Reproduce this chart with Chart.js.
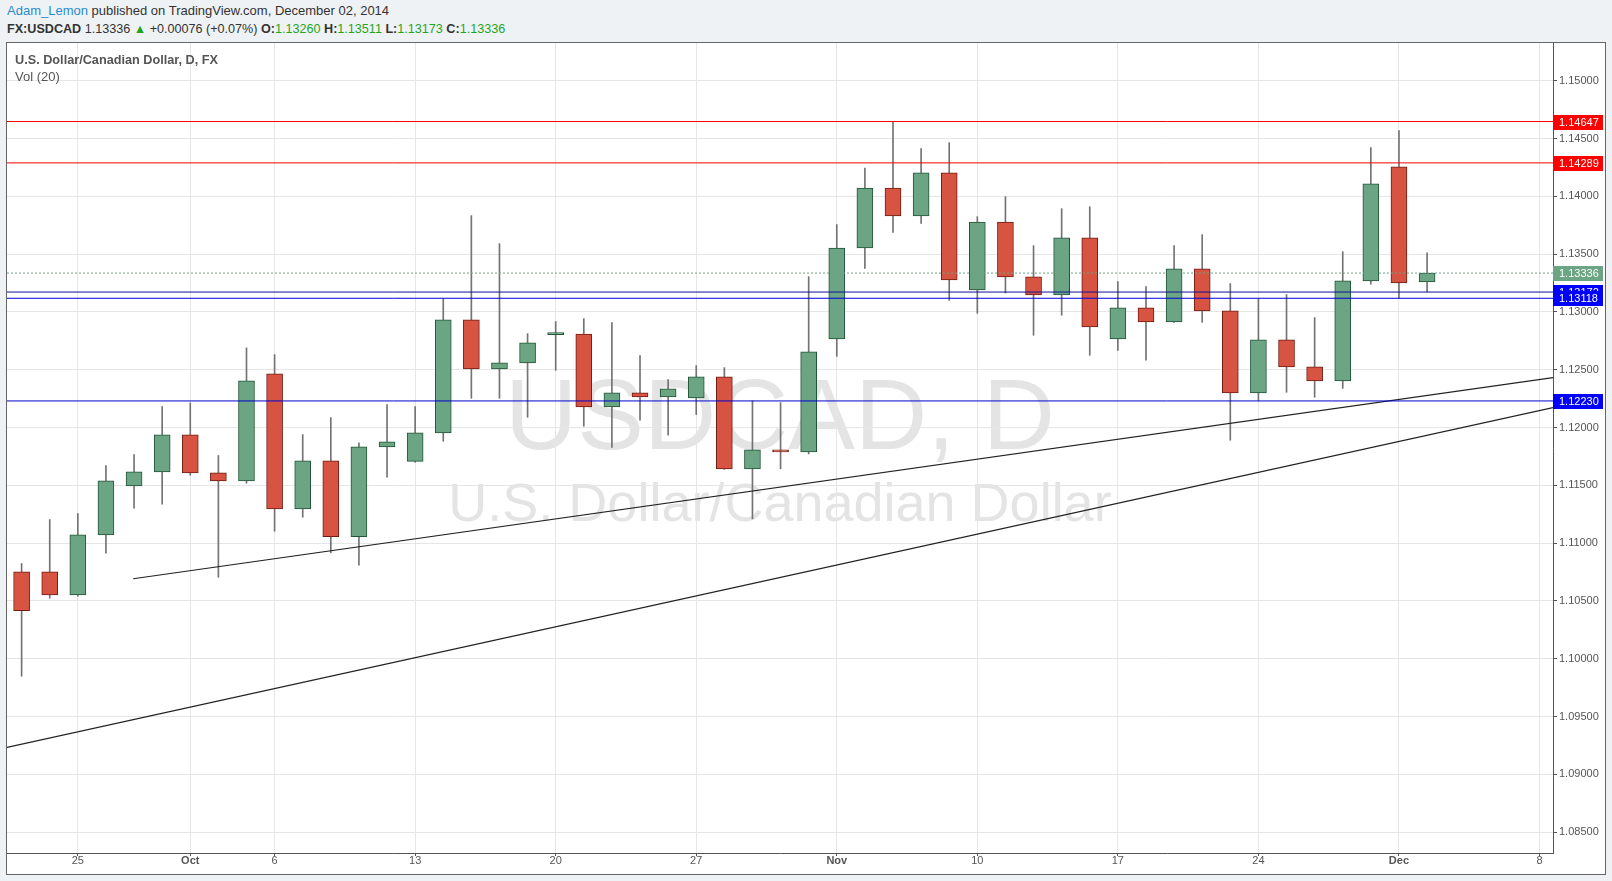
<!DOCTYPE html>
<html>
<head>
<meta charset="utf-8">
<script src="https://cdn.jsdelivr.net/npm/chart.js@4.4.1/dist/chart.umd.min.js"></script>
<style>
  html, body { margin: 0; padding: 0; }
  body { width: 1612px; height: 881px; background: #eff2f5; position: relative; overflow: hidden;
         font-family: "Liberation Sans", Arial, sans-serif; }
  .hdr { position: absolute; left: 7px; font-size: 13px; line-height: 16px; color: #333; white-space: nowrap; }
  #hdr1 { top: 3px; }
  #hdr2 { top: 21px; font-size: 12.6px; }
  .user { color: #2a8cce; }
  .g { color: #1fa51f; }
  #panel { position: absolute; left: 6px; top: 42px; width: 1600px; height: 833px; box-sizing: border-box;
           border: 1px solid #666; background: #fff; }
  .wm { position: absolute; left: 7px; width: 1546px; text-align: center; color: #e4e4e4; white-space: nowrap; }
  #wm1 { top: 364px; font-size: 100px; line-height: 100px; }
  #wm2 { top: 475px; font-size: 54px; line-height: 54px; }
  #c { position: absolute; left: 0; top: 0; }
  .lbl { position: absolute; left: 15px; line-height: 16px; color: #555; white-space: nowrap; }
  #title { top: 52px; font-size: 12.7px; font-weight: bold; }
  #vol { top: 69px; font-size: 13px; }
</style>
</head>
<body>
<div class="hdr" id="hdr1"><span class="user">Adam_Lemon</span> published on TradingView.com, December 02, 2014</div>
<div class="hdr" id="hdr2"><b>FX:USDCAD</b> 1.13336 <span class="g">&#9650;</span> +0.00076 (+0.07%) <b>O:</b><span class="g">1.13260</span> <b>H:</b><span class="g">1.13511</span> <b>L:</b><span class="g">1.13173</span> <b>C:</b><span class="g">1.13336</span></div>
<div id="panel"></div>
<div class="wm" id="wm1">USDCAD, D</div>
<div class="wm" id="wm2">U.S. Dollar/Canadian Dollar</div>
<canvas id="c" width="1612" height="881" style="width:1612px;height:881px"></canvas>
<div class="lbl" id="title">U.S. Dollar/Canadian Dollar, D, FX</div>
<div class="lbl" id="vol">Vol (20)</div>
<script>
// dagelijkse candles USDCAD, 23 sep - 2 dec 2014
const dates = ["09-23","09-24","09-25","09-26","09-29","09-30","10-01","10-02","10-03","10-06",
  "10-07","10-08","10-09","10-10","10-13","10-14","10-15","10-16","10-17","10-20",
  "10-21","10-22","10-23","10-24","10-27","10-28","10-29","10-30","10-31","11-03",
  "11-04","11-05","11-06","11-07","11-10","11-11","11-12","11-13","11-14","11-17",
  "11-18","11-19","11-20","11-21","11-24","11-25","11-26","11-27","11-28","12-01","12-02"];
const opens = [1.10752,1.10752,1.10553,1.11072,1.11496,1.11617,1.11937,1.11608,1.11539,1.12464,
  1.11297,1.11712,1.11055,1.11833,1.11708,1.11954,1.12931,1.12507,1.12559,1.12804,
  1.12808,1.12179,1.12300,1.12265,1.12256,1.12438,1.11643,1.11807,1.11790,1.12767,
  1.13553,1.14072,1.13830,1.14202,1.13190,1.13778,1.13303,1.13147,1.13640,1.12767,
  1.13035,1.12914,1.13372,1.13009,1.12300,1.12758,1.12524,1.12403,1.13268,1.14254,1.13260];
const highs = [1.10824,1.11204,1.11256,1.11671,1.11766,1.12181,1.12213,1.11758,1.12689,1.12631,
  1.11939,1.12086,1.11867,1.12199,1.12181,1.13115,1.13833,1.13591,1.12812,1.12916,
  1.12942,1.12907,1.12622,1.12415,1.12536,1.12518,1.12230,1.12216,1.13305,1.13755,
  1.14245,1.14647,1.14412,1.14464,1.13824,1.13997,1.13573,1.13893,1.13910,1.13262,
  1.13219,1.13573,1.13668,1.13245,1.13112,1.13150,1.12951,1.13521,1.14421,1.14568,1.13511];
const lows = [1.09849,1.10524,1.10541,1.10913,1.11302,1.11337,1.11587,1.10705,1.11518,1.11103,
  1.11224,1.10916,1.10809,1.11570,1.11700,1.11881,1.12253,1.12253,1.12089,1.12495,
  1.12011,1.11829,1.12063,1.11933,1.12112,1.11638,1.11210,1.11643,1.11772,1.12616,
  1.13377,1.13688,1.13766,1.13100,1.12988,1.13164,1.12798,1.12971,1.12625,1.12668,
  1.12582,1.12910,1.12910,1.11890,1.12233,1.12305,1.12262,1.12339,1.13239,1.13118,1.13173];
const closes = [1.10415,1.10553,1.11072,1.11539,1.11617,1.11937,1.11608,1.11539,1.12403,1.11297,
  1.11712,1.11055,1.11833,1.11876,1.11954,1.12931,1.12507,1.12559,1.12732,1.12808,
  1.12179,1.12300,1.12265,1.12334,1.12438,1.11643,1.11807,1.11790,1.12654,1.13553,
  1.14072,1.13830,1.14202,1.13277,1.13778,1.13303,1.13147,1.13640,1.12870,1.13035,
  1.12914,1.13372,1.13009,1.12300,1.12758,1.12524,1.12403,1.13268,1.14107,1.13251,1.13336];

// horizontale niveaus en trendlijnen
const levels = [1.14647, 1.14289, 1.13172, 1.13118, 1.12230];
const levelColors = ["#ff0000", "#ff0000", "#10109a", "#0000dd", "#0000cc"];
const tagColors = ["#ff0000", "#ff0000", "#0000ff", "#0000ff", "#0000ff"];
const lastPrice = 1.13336;
const trendA_x = [3.97, 54.48], trendA_y = [1.10692, 1.12431];
const trendB_x = [-0.52, 54.48], trendB_y = [1.09234, 1.12173];

// as-labels
const xTickIdx = [2, 6, 9, 14, 19, 24, 29, 34, 39, 44, 49, 54];
const xTickLabels = ["25", "Oct", "6", "13", "20", "27", "Nov", "10", "17", "24", "Dec", "8"];
const monthLabels = ["Oct", "Nov", "Dec"];
const yTicks = [1.085, 1.09, 1.095, 1.10, 1.105, 1.11, 1.115, 1.12, 1.125, 1.13, 1.135, 1.14, 1.145, 1.15];

const X_MIN = -0.52, X_MAX = 54.48;

const up = closes.map((c, i) => c >= opens[i]);
const bodyFill = up.map(u => u ? "#6ba583" : "#d75442");
const bodyLine = up.map(u => u ? "#225437" : "#6f1c12");

const levelSets = levels.map((v, i) => ({
  type: "line",
  data: [{ x: X_MIN, y: v }, { x: X_MAX, y: v }],
  borderColor: levelColors[i], borderWidth: 1, pointRadius: 0, order: 0
}));

const priceTags = {
  id: "priceTags",
  afterDraw(chart) {
    const ctx = chart.ctx, y = chart.scales.y, left = chart.chartArea.right;
    const tags = levels.map((v, i) => ({ v, c: tagColors[i] }));
    tags.splice(2, 0, { v: lastPrice, c: "#6ba583" });
    ctx.save();
    ctx.font = "11px 'Liberation Sans', Arial";
    ctx.textBaseline = "middle";
    tags.forEach(t => {
      const py = y.getPixelForValue(t.v);
      ctx.fillStyle = t.c;
      ctx.fillRect(left, Math.round(py) - 7, 50, 15);
      ctx.fillStyle = "#fff";
      ctx.fillText(t.v.toFixed(5), left + 6, Math.round(py) + 0.5);
    });
    ctx.restore();
  }
};

new Chart(document.getElementById("c"), {
  type: "bar",
  data: {
    datasets: [
      ...levelSets,
      {
        type: "line",
        data: [{ x: X_MIN, y: lastPrice }, { x: X_MAX, y: lastPrice }],
        borderColor: "#6ba583", borderWidth: 1, borderDash: [2, 2], pointRadius: 0, order: 0
      },
      {
        type: "line",
        data: trendA_x.map((x, i) => ({ x, y: trendA_y[i] })),
        borderColor: "#222", borderWidth: 1.2, pointRadius: 0, order: 0
      },
      {
        type: "line",
        data: trendB_x.map((x, i) => ({ x, y: trendB_y[i] })),
        borderColor: "#222", borderWidth: 1.2, pointRadius: 0, order: 0
      },
      {
        data: dates.map((d, i) => ({ x: i, y: [opens[i], closes[i]] })),
        backgroundColor: bodyFill, borderColor: bodyLine, borderWidth: 1, borderSkipped: false,
        barThickness: 16, minBarLength: 2, grouped: false, order: 1
      },
      {
        data: dates.map((d, i) => ({ x: i, y: [lows[i], highs[i]] })),
        backgroundColor: "#737373", borderWidth: 0, barThickness: 1, grouped: false, order: 2
      }
    ]
  },
  options: {
    responsive: false,
    animation: false,
    layout: { padding: { left: 7, top: 43, right: 7, bottom: 7 } },
    plugins: { legend: { display: false }, tooltip: { enabled: false } },
    scales: {
      x: {
        type: "linear", min: X_MIN, max: X_MAX, offset: false,
        afterBuildTicks: s => { s.ticks = xTickIdx.map(v => ({ value: v })); },
        afterFit: s => { s.height = 21; },
        ticks: {
          autoSkip: false, maxRotation: 0, padding: -2, color: "#555",
          font: ctx => ({ family: "'Liberation Sans', Arial", size: 11,
            weight: ctx.tick && monthLabels.includes(xTickLabels[xTickIdx.indexOf(ctx.tick.value)]) ? "bold" : "normal" }),
          callback: v => xTickLabels[xTickIdx.indexOf(v)]
        },
        grid: { color: "#e6e6e6", tickColor: "#555", tickLength: 3, offset: false },
        border: { color: "#555" }
      },
      y: {
        type: "linear", position: "right", min: 1.0832, max: 1.15326,
        afterBuildTicks: s => { s.ticks = yTicks.map(v => ({ value: v })); },
        afterFit: s => { s.width = 52; },
        ticks: {
          padding: 2, color: "#555", font: { family: "'Liberation Sans', Arial", size: 11 },
          callback: v => v.toFixed(5)
        },
        grid: { color: "#e6e6e6", tickColor: "#555", tickLength: 4 },
        border: { color: "#555" }
      }
    }
  },
  plugins: [priceTags]
});
</script>
</body>
</html>
